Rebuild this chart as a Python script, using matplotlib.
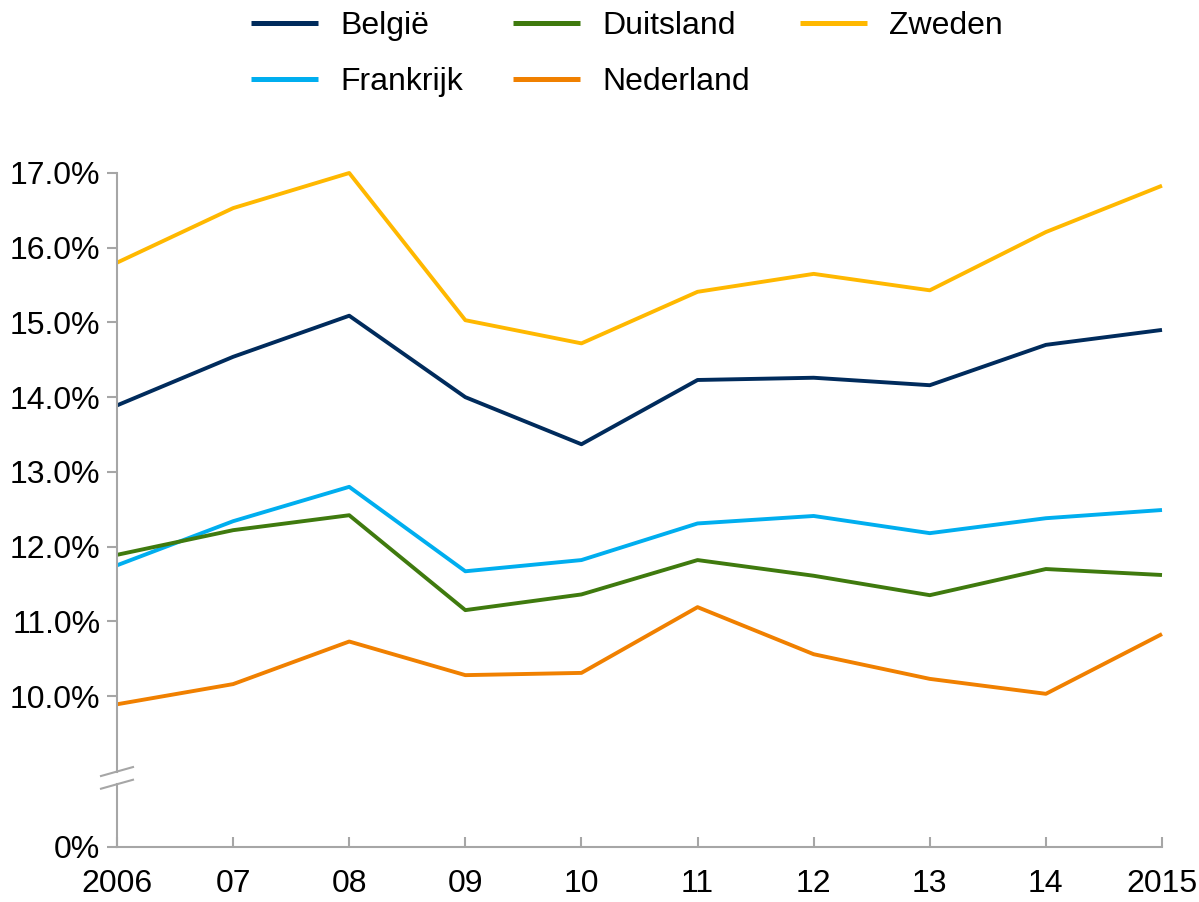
import matplotlib.pyplot as plt
import numpy as np

plt.rcParams['font.family'] = ['Liberation Sans', 'DejaVu Sans']

years = [2006, 2007, 2008, 2009, 2010, 2011, 2012, 2013, 2014, 2015]
year_labels = ['2006', '07', '08', '09', '10', '11', '12', '13', '14', '2015']

belgie = [13.89, 14.54, 15.09, 14.00, 13.37, 14.23, 14.26, 14.16, 14.70, 14.90]
duitsland = [11.89, 12.22, 12.42, 11.15, 11.36, 11.82, 11.61, 11.35, 11.70, 11.62]
zweden = [15.80, 16.53, 17.00, 15.03, 14.72, 15.41, 15.65, 15.43, 16.21, 16.83]
frankrijk = [11.75, 12.34, 12.80, 11.67, 11.82, 12.31, 12.41, 12.18, 12.38, 12.49]
nederland = [9.89, 10.16, 10.73, 10.28, 10.31, 11.19, 10.56, 10.23, 10.03, 10.83]

ytick_vals = [10, 11, 12, 13, 14, 15, 16, 17]
zero_pos = 7.98  # where 0% sits below the axis break

axis_grey = '#a6a6a6'
fs = 23

fig = plt.figure(figsize=(11.99, 9.02), dpi=100)
ax = fig.add_axes([117 / 1199, 1 - 847 / 902, (1162 - 117) / 1199, (847 - 173) / 902])

series = [
    ('België', belgie, '#002b5c'),
    ('Frankrijk', frankrijk, '#00aeef'),
    ('Duitsland', duitsland, '#3f7a0e'),
    ('Nederland', nederland, '#f08000'),
    ('Zweden', zweden, '#ffb800'),
]
for name, vals, col in series:
    ax.plot(years, vals, color=col, lw=2.8, label=name, clip_on=False,
            solid_joinstyle='round', solid_capstyle='butt')

ax.set_xlim(2006, 2015)
ax.set_ylim(zero_pos, 17)

for s in ['top', 'right', 'left']:
    ax.spines[s].set_visible(False)
ax.spines['bottom'].set_color(axis_grey)
ax.spines['bottom'].set_linewidth(1.5)

# left axis with a break
yt = ax.get_yaxis_transform()
ax.plot([0, 0], [zero_pos, 8.82], color=axis_grey, lw=1.5, transform=yt, clip_on=False)
ax.plot([0, 0], [8.98, 17], color=axis_grey, lw=1.5, transform=yt, clip_on=False)
w = 16 / (1162 - 117)
ax.plot([-w, w], [8.76, 8.88], color=axis_grey, lw=1.5, transform=yt, clip_on=False)
ax.plot([-w, w], [8.93, 9.05], color=axis_grey, lw=1.5, transform=yt, clip_on=False)

ax.set_yticks([zero_pos] + ytick_vals)
ax.set_yticklabels(['0%'] + ['%.1f%%' % v for v in ytick_vals])
ax.tick_params(axis='y', direction='out', length=7, width=1.5, color=axis_grey,
               labelsize=fs, pad=5)

ax.set_xticks(years)
ax.set_xticklabels(year_labels)
ax.tick_params(axis='x', direction='in', length=7, width=1.5, color=axis_grey,
               labelsize=fs, pad=16)

leg = fig.legend(loc='upper center', bbox_to_anchor=(627 / 1199, 1.02), ncol=3,
                 frameon=False, fontsize=fs, handlelength=2.1, handletextpad=0.7,
                 columnspacing=1.55, labelspacing=0.83)
for h in leg.get_lines():
    h.set_linewidth(3.6)

fig.savefig('out.png', dpi=100)
